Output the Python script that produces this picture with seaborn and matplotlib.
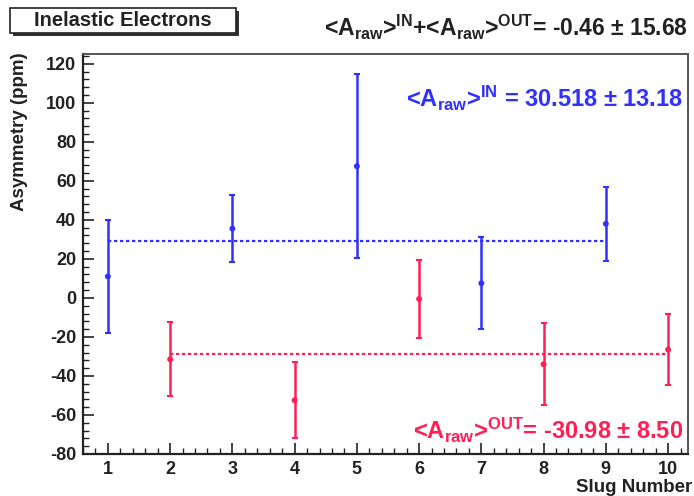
import numpy as np
import pandas as pd
import matplotlib
matplotlib.use("Agg")
import matplotlib.pyplot as plt
from matplotlib.patches import Rectangle
from matplotlib.ticker import MultipleLocator
import seaborn as sns

# ---- data ----
slug_in = [1, 3, 5, 7, 9]
asym_in = [11.0, 35.5, 67.5, 7.5, 38.0]
err_in = [29.0, 17.0, 47.0, 23.5, 19.0]

slug_out = [2, 4, 6, 8, 10]
asym_out = [-31.5, -52.5, -0.5, -34.0, -26.5]
err_out = [19.0, 19.5, 20.0, 21.0, 18.0]

mean_in_line = 29.0
mean_out_line = -28.5

title_text = "<A$_{\\mathrm{raw}}$>$^{\\mathrm{IN}}$+<A$_{\\mathrm{raw}}$>$^{\\mathrm{OUT}}$= -0.46 ± 15.68"
in_text = "<A$_{\\mathrm{raw}}$>$^{\\mathrm{IN}}$ = 30.518 ± 13.18"
out_text = "<A$_{\\mathrm{raw}}$>$^{\\mathrm{OUT}}$= -30.98 ± 8.50"
box_text = "Inelastic Electrons"

BLUE = "#3030ff"
RED = "#ff1f55"

sns.set_theme(style="ticks")
plt.rcParams["font.family"] = ["Liberation Sans", "DejaVu Sans"]
plt.rcParams["font.weight"] = "bold"
plt.rcParams["axes.unicode_minus"] = False
plt.rcParams["mathtext.fontset"] = "custom"
plt.rcParams["mathtext.rm"] = "Liberation Sans:bold"
plt.rcParams["mathtext.it"] = "Liberation Sans:bold"
plt.rcParams["mathtext.bf"] = "Liberation Sans:bold"
plt.rcParams["mathtext.sf"] = "Liberation Sans:bold"

fig = plt.figure(figsize=(6.94, 4.96), dpi=100)
W, H = 694, 496
left, right, top, bottom = 83, 688, 54, 454
ax = fig.add_axes([left / W, 1 - bottom / H, (right - left) / W, (bottom - top) / H])

df_in = pd.DataFrame({"slug": slug_in, "asym": asym_in, "err": err_in})
df_out = pd.DataFrame({"slug": slug_out, "asym": asym_out, "err": err_out})

# mean lines
df_min = pd.DataFrame({"slug": [slug_in[0], slug_in[-1]], "asym": [mean_in_line] * 2})
df_mout = pd.DataFrame({"slug": [slug_out[0], slug_out[-1]], "asym": [mean_out_line] * 2})
sns.lineplot(data=df_min, x="slug", y="asym", ax=ax, color=BLUE, lw=1.6,
             linestyle=(0, (1.5, 1.2)), zorder=2)
sns.lineplot(data=df_mout, x="slug", y="asym", ax=ax, color=RED, lw=1.6,
             linestyle=(0, (1.5, 1.2)), zorder=2)

# error bars
ax.errorbar(df_in["slug"], df_in["asym"], yerr=df_in["err"], fmt="none",
            ecolor=BLUE, elinewidth=1.8, capsize=2.5, capthick=1.5, zorder=3)
ax.errorbar(df_out["slug"], df_out["asym"], yerr=df_out["err"], fmt="none",
            ecolor=RED, elinewidth=1.8, capsize=2.5, capthick=1.5, zorder=3)
sns.scatterplot(data=df_in, x="slug", y="asym", ax=ax, color=BLUE, s=18,
                edgecolor="none", zorder=4)
sns.scatterplot(data=df_out, x="slug", y="asym", ax=ax, color=RED, s=18,
                edgecolor="none", zorder=4)

ax.set_xlim(0.6, 10.32)
ax.set_ylim(-80, 125)
ax.xaxis.set_major_locator(MultipleLocator(1))
ax.xaxis.set_minor_locator(MultipleLocator(0.2))
ax.yaxis.set_major_locator(MultipleLocator(20))
ax.yaxis.set_minor_locator(MultipleLocator(4))
ax.tick_params(axis="both", which="major", direction="in", length=8, width=1.2,
               labelsize=13, colors="#222222", pad=5)
ax.tick_params(axis="both", which="minor", direction="in", length=4, width=1.0,
               colors="#222222")
ax.tick_params(top=False, right=False, which="both")
for lab in ax.get_xticklabels() + ax.get_yticklabels():
    lab.set_fontweight("bold")

for s in ["left", "bottom"]:
    ax.spines[s].set_linewidth(1.6)
    ax.spines[s].set_color("#222222")
for s in ["top", "right"]:
    ax.spines[s].set_visible(True)
    ax.spines[s].set_linewidth(1.4)
    ax.spines[s].set_color("#555555")

ax.set_xlabel("")
ax.set_ylabel("")
fig.text(20 / W, 1 - 52 / H, "Asymmetry (ppm)", rotation=90, ha="center", va="top",
         fontsize=13.5, fontweight="bold", color="#222222")
fig.text(692 / W, 1 - 487 / H, "Slug Number", ha="right", va="center",
         fontsize=13.5, fontweight="bold", color="#222222")

# header box with shadow
bx0, bx1, by0, by1 = 10, 236, 8, 33
fig.patches.append(Rectangle(((bx0 + 3) / W, 1 - (by1 + 3) / H), (bx1 - bx0) / W,
                             (by1 - by0) / H, transform=fig.transFigure,
                             facecolor="#333333", edgecolor="none", zorder=1))
fig.patches.append(Rectangle((bx0 / W, 1 - by1 / H), (bx1 - bx0) / W, (by1 - by0) / H,
                             transform=fig.transFigure, facecolor="white",
                             edgecolor="#222222", lw=1.2, zorder=2))
fig.text((bx0 + bx1) / 2 / W, 1 - 21 / H, box_text, ha="center", va="center",
         fontsize=14.5, fontweight="bold", color="#222222", zorder=3)

fig.text(688 / W, 1 - 27 / H, title_text, ha="right", va="center", fontsize=16.5,
         fontweight="bold", color="#222222")
fig.text(683 / W, 1 - 98 / H, in_text, ha="right", va="center", fontsize=17,
         fontweight="bold", color=BLUE)
fig.text(683 / W, 1 - 430 / H, out_text, ha="right", va="center", fontsize=17,
         fontweight="bold", color=RED)

fig.savefig("out.png", dpi=100, facecolor="white")
